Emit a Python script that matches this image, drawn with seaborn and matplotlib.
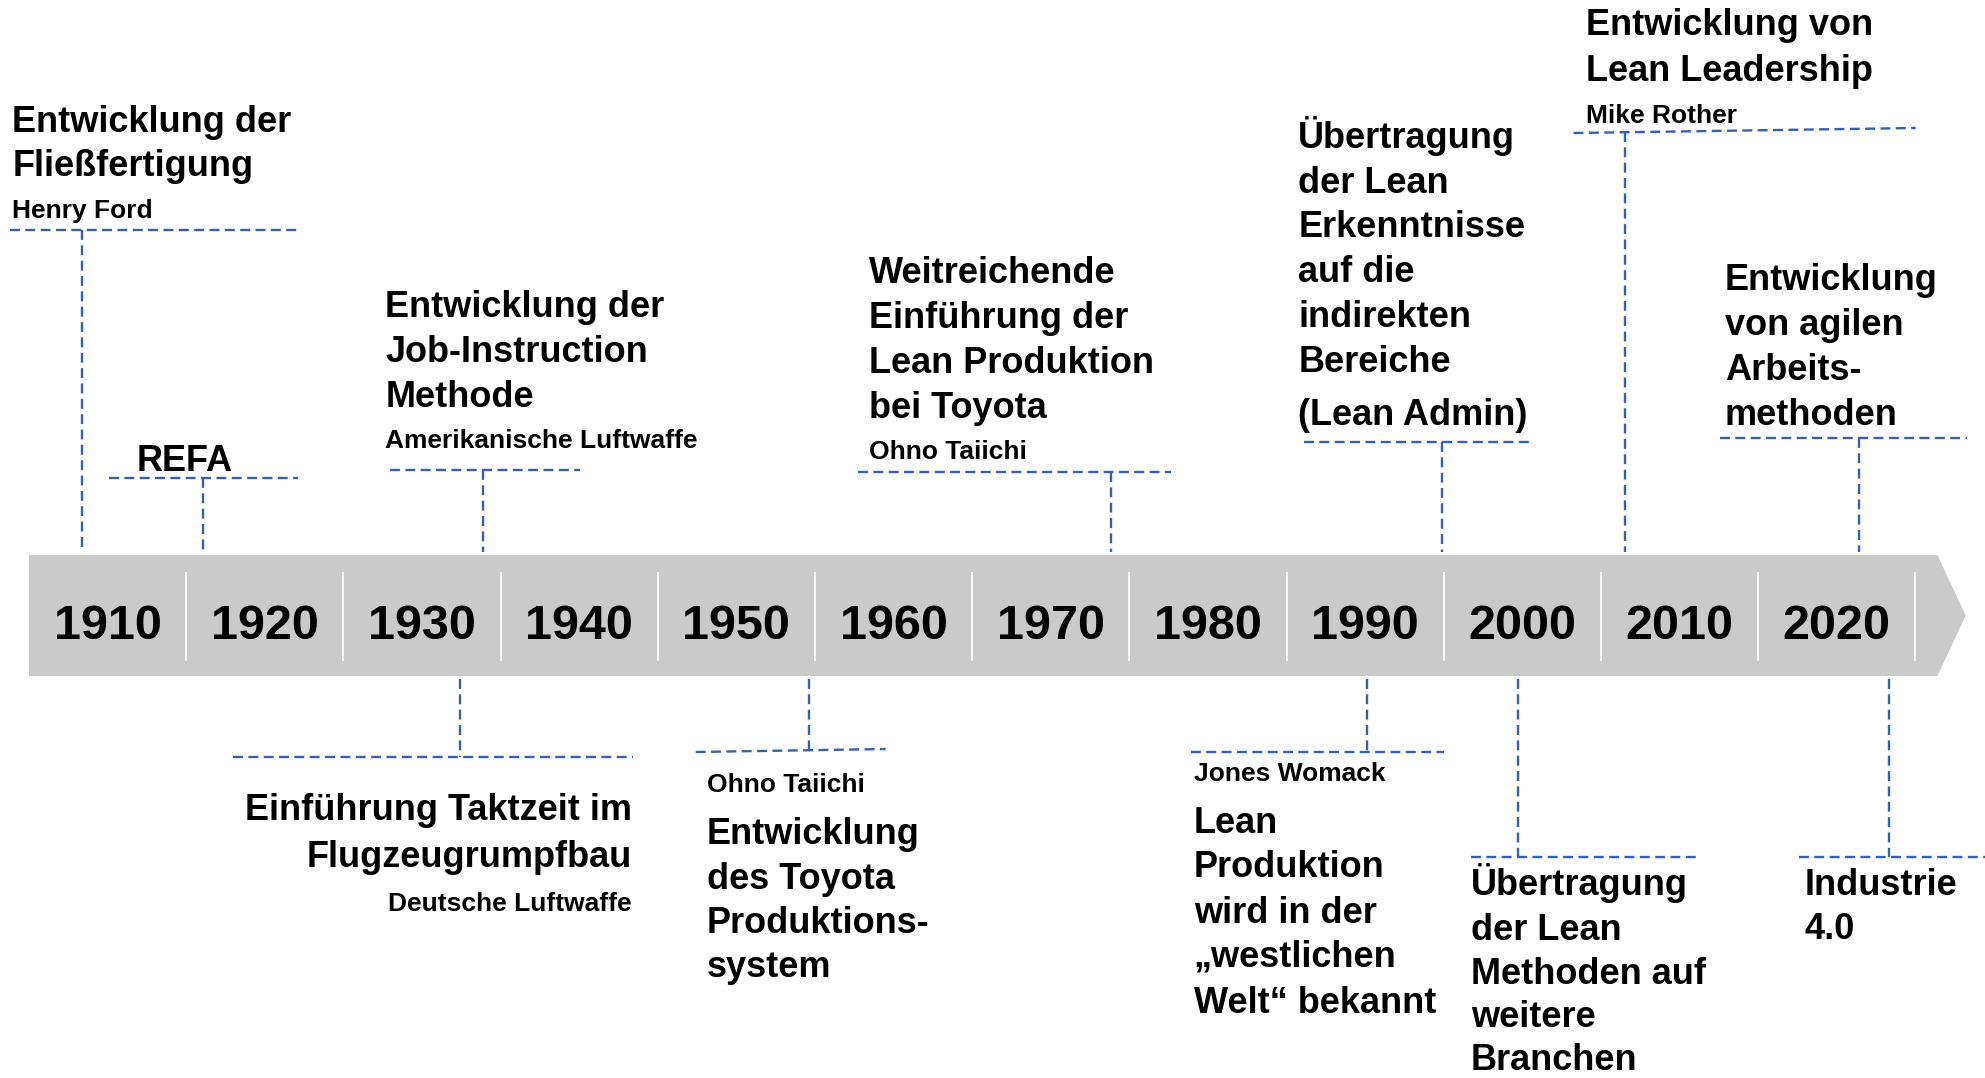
import matplotlib
matplotlib.use("Agg")
import matplotlib.pyplot as plt
import numpy as np
import pandas as pd
import seaborn as sns

# decade labels on the timeline band
decades = [1910, 1920, 1930, 1940, 1950, 1960, 1970, 1980, 1990, 2000, 2010, 2020]

# milestones above the band
top_years = [1908.4, 1916.1, 1933.9, 1973.8, 1994.9, 2006.5, 2021.4]
top_titles = [
    ["Entwicklung der", "Fließfertigung"],
    ["REFA"],
    ["Entwicklung der", "Job-Instruction", "Methode"],
    ["Weitreichende", "Einführung der", "Lean Produktion", "bei Toyota"],
    ["Übertragung", "der Lean", "Erkenntnisse", "auf die", "indirekten", "Bereiche", "(Lean Admin)"],
    ["Entwicklung von", "Lean Leadership"],
    ["Entwicklung", "von agilen", "Arbeits-", "methoden"],
]
top_people = ["Henry Ford", "", "Amerikanische Luftwaffe", "Ohno Taiichi", "", "Mike Rother", ""]

# milestones below the band
bottom_years = [1932.4, 1954.6, 1990.1, 1999.7, 2023.3]
bottom_titles = [
    ["Einführung Taktzeit im", "Flugzeugrumpfbau"],
    ["Entwicklung", "des Toyota", "Produktions-", "system"],
    ["Lean", "Produktion", "wird in der", "„westlichen", "Welt“ bekannt"],
    ["Übertragung", "der Lean", "Methoden auf", "weitere", "Branchen"],
    ["Industrie", "4.0"],
]
bottom_people = ["Deutsche Luftwaffe", "Ohno Taiichi", "Jones Womack", "", ""]

# ---- layout (pixels, y measured from the top) ----
W, H = 1985, 1078
PX_PER_YEAR = 15.72
X0 = 1910 - 107.6 / PX_PER_YEAR
BAND_TOP, BAND_BOT = 555, 676
BAND_START, BAND_CORNER, BAND_TIP = 1905.0, 2026.4, 2028.2

top_bar_y = [(230, 230), (478, 478), (470, 470), (472, 472), (442, 442), (133, 128), (438, 438)]
top_bar_dx = [(-72, 216), (-94, 95), (-93, 97), (-253, 60), (-138, 90), (-51, 291), (-139, 108)]
top_text_dx = [-70, -67, -98, -242, -144, -39, -134]
top_title_base = [[132, 176], [471], [317, 362, 407], [283, 328, 373, 418],
                  [148, 193, 237, 282, 327, 372, 425], [35, 81], [290, 335, 380, 425]]
top_people_base = [218, None, 448, 459, None, 123, None]

bot_bar_y = [(757, 757), (752, 749), (752, 752), (857, 857), (857, 857)]
bot_bar_dx = [(-227, 173), (-113, 77), (-176, 77), (-47, 182), (-90, 96)]
bot_text_dx = [172, -102, -173, -47, -84]
bot_ha = ["right", "left", "left", "left", "left"]
bot_title_base = [[820, 867], [844, 889, 933, 977], [833, 877, 923, 967, 1013],
                  [895, 940, 984, 1027, 1070], [895, 939]]
bot_people_base = [911, 792, 781, None, None]

BLUE = "#355FB0"
BAND = "#CACACA"
BIG, SMALL, YEAR = 26, 19, 35

sns.set_theme(style="white")
plt.rcParams["font.family"] = ["Liberation Sans", "DejaVu Sans"]

fig = plt.figure(figsize=(W / 100, H / 100), dpi=100)
ax = fig.add_axes([0, 0, 1, 1])


def dx(px):
    return px / PX_PER_YEAR


# connector lines: one stem plus one bracket per milestone
rows = []
seg = 0
for yr, (yl, yr_), (dl, dr) in zip(top_years, top_bar_y, top_bar_dx):
    y_stem = yl + (yr_ - yl) * (-dl) / (dr - dl)
    rows += [(seg, yr, y_stem), (seg, yr, BAND_TOP - 3)]
    seg += 1
    rows += [(seg, yr + dx(dl), yl), (seg, yr + dx(dr), yr_)]
    seg += 1
for yr, (yl, yr_), (dl, dr) in zip(bottom_years, bot_bar_y, bot_bar_dx):
    y_stem = yl + (yr_ - yl) * (-dl) / (dr - dl)
    rows += [(seg, yr, BAND_BOT + 3), (seg, yr, y_stem)]
    seg += 1
    rows += [(seg, yr + dx(dl), yl), (seg, yr + dx(dr), yr_)]
    seg += 1
links = pd.DataFrame(rows, columns=["seg", "x", "y"])

# timeline band with arrow head
ax.fill([BAND_START, BAND_CORNER, BAND_TIP, BAND_CORNER, BAND_START],
        [BAND_TOP, BAND_TOP, (BAND_TOP + BAND_BOT) / 2, BAND_BOT, BAND_BOT],
        color=BAND, lw=0, zorder=1)
seps = [d + 5 for d in decades]
ax.vlines(seps, 572, 661, color="white", lw=1.3, zorder=2)
for d in decades:
    ax.text(d, 639, str(d), ha="center", va="baseline", fontsize=YEAR,
            fontweight="bold", color="black", zorder=3)

sns.lineplot(data=links, x="x", y="y", units="seg", estimator=None, sort=False,
             color=BLUE, lw=1.7, linestyle=(0, (4.2, 2.3)), ax=ax, zorder=2)

for yr, lines, who, tdx, bases, pb in zip(top_years, top_titles, top_people,
                                          top_text_dx, top_title_base, top_people_base):
    for s, b in zip(lines, bases):
        ax.text(yr + dx(tdx), b, s, ha="left", va="baseline", fontsize=BIG,
                fontweight="bold", color="black")
    if who:
        ax.text(yr + dx(tdx), pb, who, ha="left", va="baseline", fontsize=SMALL,
                fontweight="bold", color="black")

for yr, lines, who, tdx, ha, bases, pb in zip(bottom_years, bottom_titles, bottom_people,
                                              bot_text_dx, bot_ha, bot_title_base, bot_people_base):
    for s, b in zip(lines, bases):
        ax.text(yr + dx(tdx), b, s, ha=ha, va="baseline", fontsize=BIG,
                fontweight="bold", color="black")
    if who:
        ax.text(yr + dx(tdx), pb, who, ha=ha, va="baseline", fontsize=SMALL,
                fontweight="bold", color="black")

ax.set_xlim(X0, X0 + W / PX_PER_YEAR)
ax.set_ylim(H, 0)
ax.set_axis_off()

fig.savefig("out.png", dpi=100)
